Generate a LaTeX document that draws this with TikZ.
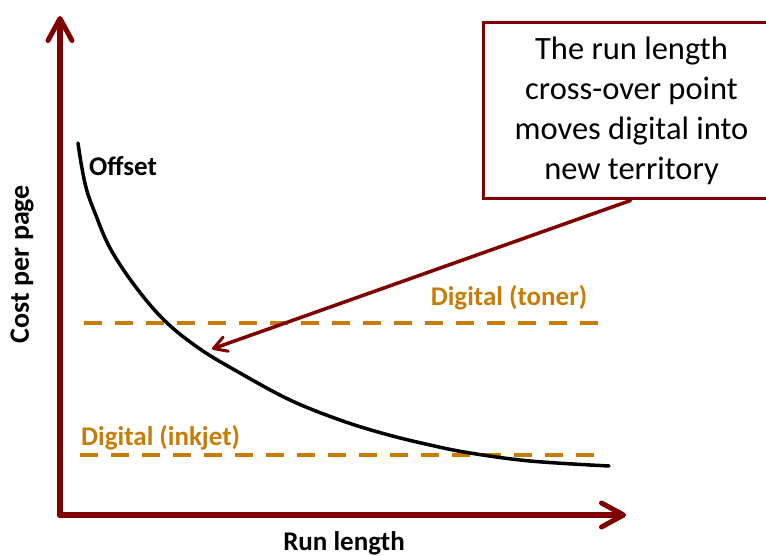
\documentclass[tikz,border=0pt]{standalone}
\usepackage{fontspec}
\setmainfont{Carlito}
\usetikzlibrary{arrows.meta}
\definecolor{axisred}{RGB}{128,0,0}
\definecolor{digorange}{RGB}{200,124,8}
\tikzset{
  axisline/.style={draw=axisred, line width=6pt, line cap=round, -{Straight Barb[length=22pt,width=24pt,line width=5pt,round]}},
  callarrow/.style={draw=axisred, line width=3.5pt, line cap=round, -{Straight Barb[length=13pt,width=15pt,line width=3pt,round]}},
  dashline/.style={draw=digorange, line width=4.5pt, dash pattern=on 18pt off 13pt},
  boldlabel/.style={font=\fontsize{27}{30}\selectfont\bfseries, inner sep=0pt},
  orangelabel/.style={boldlabel, text=digorange},
  callbox/.style={draw=axisred, line width=3pt, fill=white, minimum width=297pt, minimum height=176pt, align=center, font=\fontsize{32.5}{40}\selectfont, inner sep=0pt}
}
\begin{document}
\begin{tikzpicture}[x=1pt,y=-1pt]
\useasboundingbox (0,0) rectangle (766,556);
% axes
\coordinate (O) at (60,515);
\coordinate (ytop) at (60,16);
\coordinate (xend) at (626,515);
\draw[axisline] (O) -- (ytop);
\draw[axisline] (O) -- (xend);
% dashed digital lines
\coordinate (t1) at (84,323);
\coordinate (t2) at (600,323);
\coordinate (i1) at (80,455);
\coordinate (i2) at (600,455);
\draw[dashline] (t1) -- (t2);
\draw[dashline] (i1) -- (i2);
% offset curve
\draw[black, line width=3.5pt, line cap=round] plot[smooth, tension=0.6] coordinates {
  (78,143) (81.7,166.7) (86.7,190) (95,213) (110,248) (135,286) (165,321) (200,349) (240,373)
  (290,400) (340,420) (385,434) (430,445) (470,453) (530,461) (609,466)};
% labels
\node[boldlabel, anchor=west] (offset) at (89,166) {Offset};
\node[orangelabel] (toner) at (509,298) {Digital (toner)};
\node[orangelabel, anchor=west] (inkjet) at (81,438) {Digital (inkjet)};
\node[boldlabel, font=\fontsize{28}{30}\selectfont\bfseries, rotate=90] (ylab) at (22,264) {Cost per page};
\node[boldlabel] (xlab) at (344,543) {Run length};
% callout
\node[callbox] (box) at (631.5,111) {The run length\\cross-over point\\moves digital into\\new territory};
\coordinate (tip) at (212,349);
\draw[callarrow] ([xshift=-1pt]box.south) -- (tip);
\end{tikzpicture}
\end{document}
